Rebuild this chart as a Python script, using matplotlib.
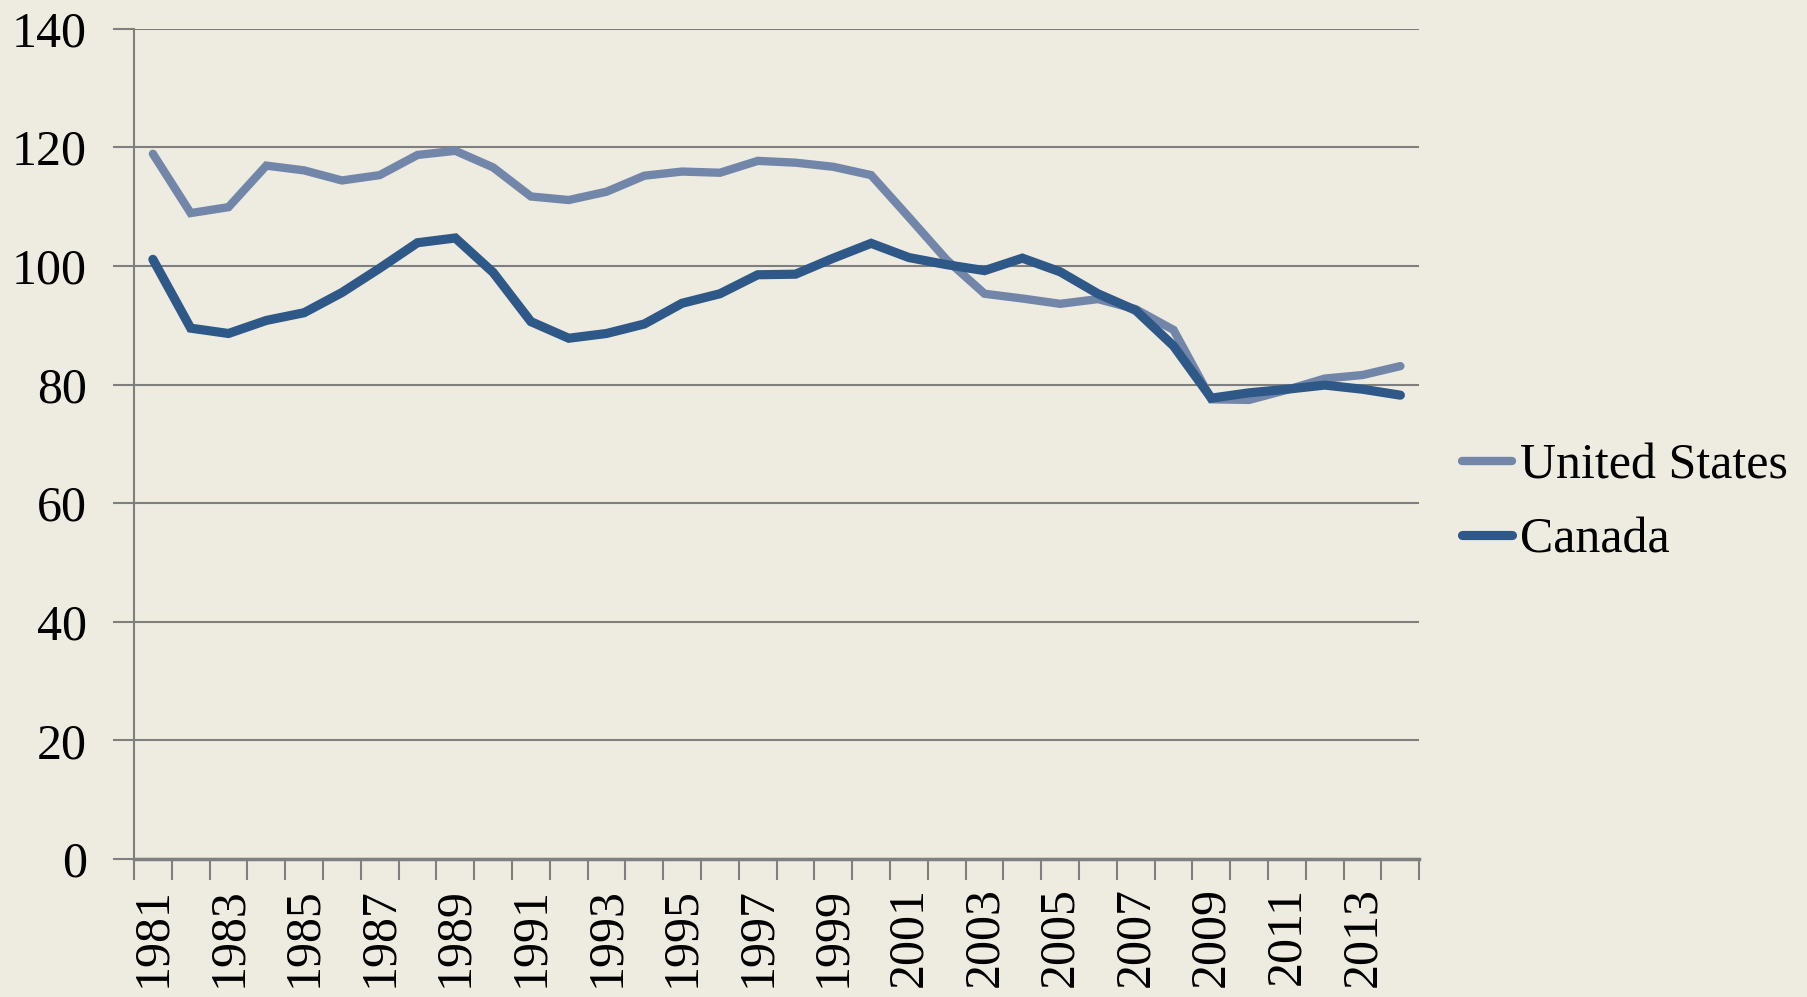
import matplotlib

matplotlib.use("Agg")
import matplotlib.pyplot as plt
from matplotlib.ticker import FixedLocator, MultipleLocator

years = list(range(1981, 2015))
united_states = [
    118.9, 108.9, 109.9, 116.9, 116.1, 114.4, 115.3, 118.7, 119.4, 116.6,
    111.7, 111.1, 112.5, 115.2, 115.9, 115.7, 117.7, 117.4, 116.7, 115.3,
    108.2, 101.0, 95.3, 94.5, 93.6, 94.4, 92.7, 89.2, 77.5, 77.4,
    79.1, 81.0, 81.6, 83.1,
]
canada = [
    101.1, 89.5, 88.6, 90.8, 92.1, 95.5, 99.6, 103.9, 104.7, 98.9,
    90.6, 87.8, 88.6, 90.2, 93.7, 95.3, 98.5, 98.6, 101.3, 103.8,
    101.4, 100.2, 99.2, 101.3, 99.0, 95.3, 92.5, 86.5, 77.7, 78.6,
    79.2, 79.9, 79.2, 78.2,
]

bg = "#EEEBE0"
grid_col = "#7F7F7F"
plt.rcParams["font.family"] = ["Liberation Serif", "DejaVu Serif"]

fig = plt.figure(figsize=(18.08, 9.97), dpi=100, facecolor=bg)
ax = fig.add_axes([0.0741, 0.1384, 0.785 - 0.0741, 0.9713 - 0.1384])
ax.set_facecolor(bg)

x = list(range(len(years)))
ax.plot(x, united_states, color="#7186A9", lw=6.0, solid_capstyle="round",
        solid_joinstyle="miter", label="United States", zorder=3)
ax.plot(x, canada, color="#2E5887", lw=6.6, solid_capstyle="round",
        solid_joinstyle="miter", label="Canada", zorder=4)

ax.set_xlim(-0.5, len(years) - 0.5)
ax.set_ylim(0, 140)
ax.yaxis.set_major_locator(MultipleLocator(20))
ax.grid(axis="y", color=grid_col, lw=1.5, zorder=1)

# category labels every other year, tick marks between categories
ax.set_xticks(x[::2])
ax.set_xticklabels([str(y) for y in years[::2]], rotation=90, va="top")
ax.xaxis.set_minor_locator(FixedLocator([i - 0.5 for i in range(len(years) + 1)]))
ax.tick_params(axis="x", which="major", length=0, pad=20, labelsize=36)
ax.tick_params(axis="x", which="minor", length=15, width=1.5, color=grid_col)
ax.tick_params(axis="y", length=15, width=1.5, color=grid_col, pad=19, labelsize=36)

for side in ("top", "right"):
    ax.spines[side].set_visible(False)
for side in ("left", "bottom"):
    ax.spines[side].set_color(grid_col)
    ax.spines[side].set_linewidth(1.5)
ax.spines["bottom"].set_linewidth(2.5)

fig.legend(loc="center left", bbox_to_anchor=(0.784, 0.4954), frameon=False,
           fontsize=36, handlelength=1.0, handletextpad=0.15, labelspacing=0.55)

fig.savefig("out.png", dpi=100, facecolor=bg)
